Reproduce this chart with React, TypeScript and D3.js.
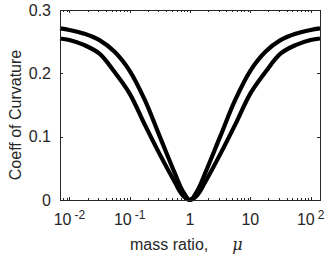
import { useRef, useEffect } from 'react';
import * as d3 from 'd3';

// mass ratio samples
const massRatio = [0.007, 0.01, 0.0178, 0.0316, 0.0562, 0.1, 0.178, 0.316, 0.562, 0.75, 1, 1.33, 1.78, 3.16, 5.62, 10, 17.8, 31.6, 56.2, 100, 143];
const upperCurve = [0.271, 0.2685, 0.2625, 0.2525, 0.234, 0.204, 0.158, 0.100, 0.042, 0.015, 0, 0.015, 0.042, 0.100, 0.158, 0.204, 0.234, 0.2525, 0.2625, 0.2685, 0.271];
const lowerCurve = [0.255, 0.2525, 0.2445, 0.231, 0.202, 0.168, 0.119, 0.072, 0.028, 0.008, 0, 0.008, 0.028, 0.072, 0.119, 0.168, 0.202, 0.231, 0.2445, 0.2525, 0.255];

const xTicks = [0.01, 0.1, 1, 10, 100];
const xTickBase = ['10', '10', '1', '10', '10'];
const xTickExp = ['-2', '-1', '', '', '2'];
const yTicks = [0, 0.1, 0.2, 0.3];
const yTickLabels = ['0', '0.1', '0.2', '0.3'];

export default function App() {
  const svgRef = useRef<SVGSVGElement>(null);
  const width = 331;
  const height = 257;

  useEffect(() => {
    if (!svgRef.current) return;
    const svg = d3.select(svgRef.current);
    svg.selectAll('*').remove();

    const margin = { top: 10, right: 11, bottom: 57, left: 60 };
    const innerWidth = width - margin.left - margin.right;
    const innerHeight = height - margin.top - margin.bottom;
    const axisColor = '#262626';
    const font = '"Liberation Sans", Arial, Helvetica, sans-serif';

    const g = svg.append('g')
      .attr('transform', `translate(${margin.left},${margin.top})`);

    const xScale = d3.scaleLog()
      .domain([0.007, 143])
      .range([0, innerWidth]);

    const yScale = d3.scaleLinear()
      .domain([0, 0.3])
      .range([innerHeight, 0]);

    // minor ticks of the log axis
    const minor: number[] = [];
    [-3, -2, -1, 0, 1, 2].forEach(p => {
      for (let k = 2; k <= 9; k++) {
        const v = k * Math.pow(10, p);
        if (v > 0.007 && v < 143) minor.push(v);
      }
    });

    const ticks = g.append('g')
      .attr('stroke', axisColor)
      .attr('stroke-width', 1);

    minor.forEach(v => {
      const x = Math.round(xScale(v)) + 0.5;
      ticks.append('line').attr('x1', x).attr('x2', x).attr('y1', innerHeight).attr('y2', innerHeight - 2);
      ticks.append('line').attr('x1', x).attr('x2', x).attr('y1', 0).attr('y2', 2);
    });
    xTicks.forEach(v => {
      const x = Math.round(xScale(v)) + 0.5;
      ticks.append('line').attr('x1', x).attr('x2', x).attr('y1', innerHeight).attr('y2', innerHeight - 3);
      ticks.append('line').attr('x1', x).attr('x2', x).attr('y1', 0).attr('y2', 3);
    });
    yTicks.forEach(v => {
      const y = Math.round(yScale(v)) + 0.5;
      ticks.append('line').attr('x1', 0).attr('x2', 3).attr('y1', y).attr('y2', y);
      ticks.append('line').attr('x1', innerWidth).attr('x2', innerWidth - 3).attr('y1', y).attr('y2', y);
    });

    // curves
    const line = d3.line<[number, number]>()
      .x(d => xScale(d[0]))
      .y(d => yScale(d[1]))
      .curve(d3.curveCatmullRom.alpha(0.5));

    [upperCurve, lowerCurve].forEach(series => {
      const pts = massRatio.map((m, i) => [m, series[i]] as [number, number]);
      g.append('path')
        .datum(pts)
        .attr('fill', 'none')
        .attr('stroke', '#000')
        .attr('stroke-width', 4.2)
        .attr('stroke-linejoin', 'round')
        .attr('d', line);
    });

    // box
    g.append('rect')
      .attr('x', 0.5)
      .attr('y', 0.5)
      .attr('width', innerWidth)
      .attr('height', innerHeight)
      .attr('fill', 'none')
      .attr('stroke', axisColor)
      .attr('stroke-width', 1);

    // y tick labels
    yTicks.forEach((v, i) => {
      g.append('text')
        .attr('x', -9)
        .attr('y', yScale(v))
        .attr('dy', '0.36em')
        .attr('text-anchor', 'end')
        .attr('font-family', font)
        .attr('font-size', 16)
        .attr('fill', axisColor)
        .text(yTickLabels[i]);
    });

    // x tick labels
    xTicks.forEach((v, i) => {
      const t = g.append('text')
        .attr('x', xScale(v))
        .attr('y', innerHeight + 25)
        .attr('text-anchor', 'middle')
        .attr('font-family', font)
        .attr('font-size', 16)
        .attr('fill', axisColor);
      t.append('tspan').text(xTickBase[i]);
      if (xTickExp[i]) {
        t.append('tspan')
          .attr('dx', 3)
          .attr('dy', -6)
          .attr('font-size', 12)
          .text(xTickExp[i]);
      }
    });

    // axis titles
    const xl = svg.append('text')
      .attr('x', 130)
      .attr('y', 250)
      .attr('font-family', font)
      .attr('font-size', 16)
      .attr('fill', axisColor);
    xl.append('tspan').text('mass ratio,');
    xl.append('tspan')
      .attr('dx', 24)
      .attr('font-family', '"DejaVu Serif", "Liberation Serif", serif')
      .attr('font-style', 'italic')
      .text('μ');

    svg.append('text')
      .attr('transform', `translate(21,115) rotate(-90)`)
      .attr('text-anchor', 'middle')
      .attr('font-family', font)
      .attr('font-size', 16)
      .attr('fill', axisColor)
      .text('Coeff of Curvature');
  }, []);

  return (
    <svg
      ref={svgRef}
      width={width}
      height={height}
      style={{ position: 'absolute', left: 0, top: 0, background: '#fff' }}
    />
  );
}
